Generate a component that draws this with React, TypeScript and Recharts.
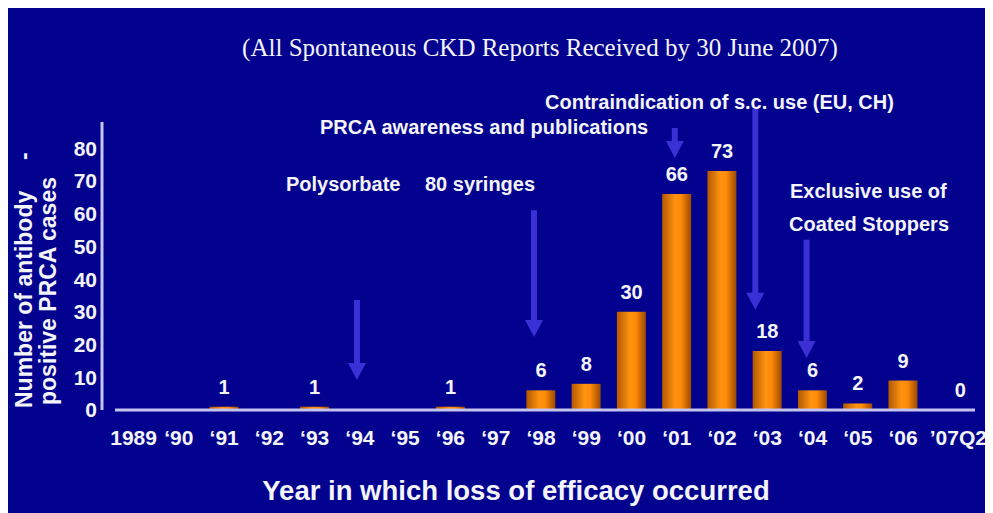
import React from "react";
import { ComposedChart, Bar, Line, XAxis, YAxis, LabelList, ReferenceLine } from "recharts";

const years = [
  "1989", "‘90", "‘91", "‘92", "‘93", "‘94", "‘95", "‘96", "‘97", "‘98",
  "‘99", "‘00", "‘01", "‘02", "‘03", "‘04", "‘05", "‘06", "’07Q2",
];
const cases = [0, 0, 1, 0, 1, 0, 0, 1, 0, 6, 8, 30, 66, 73, 18, 6, 2, 9, 0];
const caseLabels = [
  "", "", "1", "", "1", "", "", "1", "", "6",
  "8", "30", "66", "73", "18", "6", "2", "9", "0",
];
const yTicks = [0, 10, 20, 30, 40, 50, 60, 70, 80];

// event arrows: year they point at, start / end in case units
const arrowYears = ["‘94", "‘98", "‘01", "‘03", "‘04"];
const arrowFrom = [33.6, 61, 86.2, 92, 52];
const arrowTo = [9.2, 22.3, 77, 30.6, 15.9];
const arrowShift = [-3, -7, -2, -12, -6];

const data = years.map((year, i) => ({ year, cases: cases[i], label: caseLabels[i] }));

const BG = "#02028e";
const TEXT = "#f4f4fb";
const AXIS = "#c4c4ee";
const ARROW = "#3a30d6";
const SANS = "'Liberation Sans', Arial, sans-serif";
const LAST = years.length - 1;

const arrowShape = (dx: number) => (p: any) => {
  const x = p.x1 + dx;
  const top = Math.min(p.y1, p.y2);
  const tip = Math.max(p.y1, p.y2);
  const head = 17;
  const hw = 9;
  const sw = 3;
  const pts = [
    [x - sw, top], [x + sw, top], [x + sw, tip - head], [x + hw, tip - head],
    [x, tip], [x - hw, tip - head], [x - sw, tip - head],
  ].map((q) => q.join(",")).join(" ");
  return <polygon points={pts} fill={ARROW} />;
};

// the last category label sits a little to the right in the original
const YearTick = (props: any) => {
  const { x, y, payload, index } = props;
  const shift = index === LAST ? 10 : 0;
  return (
    <text x={x + shift} y={y} dy="0.71em" textAnchor="middle" fill={TEXT}
      fontFamily={SANS} fontWeight={700} fontSize={21}>
      {payload.value}
    </text>
  );
};

const CaseLabel = (props: any) => {
  const { x, y, value, index } = props;
  if (!value) return null;
  const shift = index === LAST ? 12 : 0;
  return (
    <text x={x + shift} y={y - 13} textAnchor="middle" fill={TEXT}
      fontFamily={SANS} fontWeight={700} fontSize={20}>
      {value}
    </text>
  );
};

const note = { fill: TEXT, fontFamily: SANS, fontWeight: 700, fontSize: 20 } as const;

export default function App() {
  return (
    <div style={{ position: "relative", width: 985, height: 505, background: BG, overflow: "hidden" }}>
      <ComposedChart
        width={985}
        height={505}
        data={data}
        margin={{ top: 114, right: 22, bottom: 63, left: 43 }}
      >
        <defs>
          <linearGradient id="barGrad" x1="0" y1="0" x2="1" y2="0">
            <stop offset="0%" stopColor="#b35800" />
            <stop offset="45%" stopColor="#ff9412" />
            <stop offset="65%" stopColor="#ff8a08" />
            <stop offset="100%" stopColor="#9a4a00" />
          </linearGradient>
        </defs>
        <XAxis
          dataKey="year"
          interval={0}
          tickSize={0}
          tickMargin={20}
          height={40}
          axisLine={{ stroke: AXIS, strokeWidth: 3, transform: "translate(4,0)" }}
          tick={<YearTick />}
        />
        <YAxis
          domain={[0, 88]}
          ticks={yTicks}
          width={60}
          tickSize={0}
          tickMargin={14}
          axisLine={{ stroke: AXIS, strokeWidth: 3, transform: "translate(-9,0)" }}
          tick={{ fill: TEXT, fontFamily: SANS, fontWeight: 700, fontSize: 21 }}
        />
        <Bar dataKey="cases" barSize={29} fill="url(#barGrad)" isAnimationActive={false} />
        <Line
          dataKey="cases"
          stroke="none"
          dot={false}
          activeDot={false}
          isAnimationActive={false}
        >
          <LabelList dataKey="label" content={<CaseLabel />} />
        </Line>
        {arrowYears.map((y, i) => (
          <ReferenceLine
            key={y}
            segment={[{ x: y, y: arrowFrom[i] }, { x: y, y: arrowTo[i] }]}
            ifOverflow="visible"
            shape={arrowShape(arrowShift[i])}
          />
        ))}
      </ComposedChart>
      <svg
        width={985}
        height={505}
        style={{ position: "absolute", left: 0, top: 0, pointerEvents: "none" }}
      >
        <text x={532} y={48} textAnchor="middle" fill={TEXT}
          fontFamily="'Liberation Serif', 'Times New Roman', serif" fontSize={25}>
          (All Spontaneous CKD Reports Received by 30 June 2007)
        </text>
        <text x={537} y={101} {...note}>Contraindication of s.c. use (EU, CH)</text>
        <text x={312} y={126} {...note}>PRCA awareness and publications</text>
        <text x={278} y={183} {...note}>Polysorbate</text>
        <text x={417} y={183} {...note}>80 syringes</text>
        <text x={782} y={190} {...note}>Exclusive use of</text>
        <text x={781} y={223} {...note}>Coated Stoppers</text>
        <g fill={TEXT} fontFamily={SANS} fontWeight={700} fontSize={23}>
          <text transform="translate(24,400) rotate(-90)">Number of antibody</text>
          <text transform="translate(24,152) rotate(-90)">-</text>
          <text transform="translate(48,397) rotate(-90)">positive PRCA cases</text>
        </g>
        <text x={508} y={492} textAnchor="middle" fill={TEXT}
          fontFamily={SANS} fontWeight={700} fontSize={27.5}>
          Year in which loss of efficacy occurred
        </text>
      </svg>
    </div>
  );
}
